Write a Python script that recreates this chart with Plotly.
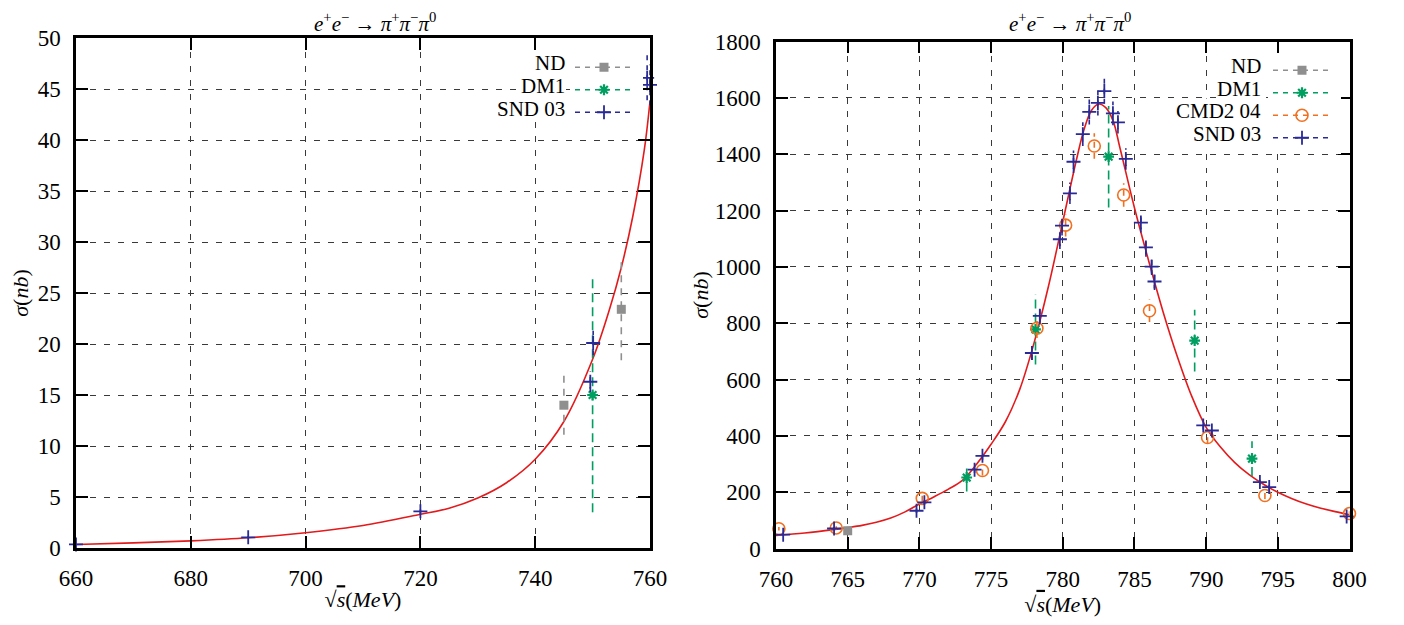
import plotly.graph_objects as go

W, H = 1404, 625
OFF = 8  # browser body margin
FONT = "Liberation Serif, DejaVu Serif, serif"

# ---------------- data: left panel (660-760 MeV) ----------------
ND_L_X = [745.0, 755.0]
ND_L_Y = [14.0, 23.4]
ND_L_E = [2.9, 5.0]

DM1_L_X = [750.0]
DM1_L_Y = [15.0]
DM1_L_E = [11.5]

SND_L_X = [660.0, 690.0, 720.0, 749.6, 750.1, 759.5, 760.0]
SND_L_Y = [0.35, 1.05, 3.6, 16.3, 20.1, 46.1, 45.4]
SND_L_E = [0.05, 0.1, 0.3, 1.0, 1.2, 2.2, 2.0]

FIT_L_X = [660, 670, 680, 690, 700, 710, 720, 725, 730, 735, 740, 745,
           750, 753, 755, 757, 759, 760]
FIT_L_Y = [0.35, 0.5, 0.7, 1.0, 1.5, 2.2, 3.3, 3.9, 4.9, 6.4, 8.7, 12.4,
           18.5, 23.5, 27.5, 32.5, 39.0, 43.8]

# ---------------- data: right panel (760-800 MeV) ----------------
ND_R_X = [765.0]
ND_R_Y = [63.0]
ND_R_E = [8.0]

DM1_R_X = [773.3, 778.1, 783.2, 789.2, 793.2]
DM1_R_Y = [252, 778, 1391, 738, 319]
DM1_R_E = [50, 125, 180, 110, 62]

CMD2_R_X = [760.2, 764.2, 770.2, 774.4, 778.2, 780.2, 782.2, 784.25, 786.05,
            790.1, 794.1, 800.0]
CMD2_R_Y = [70, 73, 178, 277, 782, 1148, 1429, 1255, 844, 394, 188, 124]
CMD2_R_E = [6, 6, 12, 18, 35, 40, 45, 42, 40, 20, 12, 8]

SND_R_X = [760.5, 764.05, 769.8, 770.35, 773.85, 774.4, 777.85, 778.4, 779.8,
           779.95, 780.5, 780.75, 781.4, 781.85, 782.45, 782.9, 783.5, 783.85,
           784.4, 785.45, 785.8, 786.2, 786.4, 789.8, 790.4, 793.75, 794.4, 799.8]
SND_R_Y = [49, 71, 134, 164, 280, 329, 694, 826, 1098, 1146, 1261, 1373, 1471,
           1550, 1582, 1624, 1545, 1513, 1383, 1157, 1069, 1001, 948, 437, 419,
           236, 218, 114]
SND_R_E = [4, 5, 8, 8, 12, 14, 25, 30, 35, 35, 38, 40, 42, 45, 45, 45, 42, 40,
           38, 35, 33, 30, 30, 15, 15, 10, 10, 6]

FIT_R_X = [760, 762, 764, 765, 766, 767, 768, 769, 770, 771, 772, 773, 774,
           775, 776, 777, 778, 779, 780, 781, 781.5, 782, 782.5, 783, 783.5,
           784, 785, 786, 787, 788, 789, 790, 791, 792, 793, 794, 795, 796,
           797, 798, 799, 800]
FIT_R_Y = [46, 55, 67, 74, 82, 93, 108, 130, 158, 183, 210, 242, 300,
           370, 450, 565, 730, 930, 1160, 1390, 1490, 1555, 1578, 1565, 1520,
           1420, 1210, 1020, 840, 680, 540, 430, 360, 305, 262, 228, 200, 177,
           158, 143, 131, 120]

X_L_TICKS = [660, 680, 700, 720, 740, 760]
Y_L_TICKS = [0, 5, 10, 15, 20, 25, 30, 35, 40, 45, 50]
X_R_TICKS = [760, 765, 770, 775, 780, 785, 790, 795, 800]
Y_R_TICKS = [0, 200, 400, 600, 800, 1000, 1200, 1400, 1600, 1800]

LEGEND_L = ["ND", "DM1", "SND 03"]
LEGEND_R = ["ND", "DM1", "CMD2 04", "SND 03"]

# ---------------- styles ----------------
C_ND = "#8f8f8f"
C_DM1 = "#009e60"
C_CMD2 = "#f07020"
C_SND = "#2a2a96"
C_FIT = "#e31a1c"

STYLE = {
    "ND": dict(color=C_ND, symbol="square", size=9, lw=0, dash="7px,6px"),
    "DM1": dict(color=C_DM1, symbol="asterisk-open", size=9, lw=2.2, dash="9px,5px"),
    "CMD2 04": dict(color=C_CMD2, symbol="circle-open", size=12, lw=1.6, dash="6px,5px"),
    "SND 03": dict(color=C_SND, symbol="cross-thin-open", size=10, lw=1.8, dash="5px,5px"),
}

fig = go.Figure()


def err_segments(xs, ys, es):
    ex, ey = [], []
    for x, y, e in zip(xs, ys, es):
        ex += [x, x, None]
        ey += [y - e, y + e, None]
    return ex, ey


def marker_of(st):
    mk = dict(color=st["color"], symbol=st["symbol"], size=st["size"])
    if st["lw"]:
        mk["line"] = dict(color=st["color"], width=st["lw"])
    return mk


def add_series(key, xs, ys, es, xa, ya):
    st = STYLE[key]
    ex, ey = err_segments(xs, ys, es)
    fig.add_trace(go.Scatter(
        x=ex, y=ey, mode="lines", xaxis=xa, yaxis=ya, showlegend=False,
        line=dict(color=st["color"], width=1.6, dash=st["dash"]),
        hoverinfo="skip", cliponaxis=False))
    fig.add_trace(go.Scatter(
        x=xs, y=ys, mode="markers", xaxis=xa, yaxis=ya, showlegend=False,
        marker=marker_of(st), name=key, cliponaxis=False))


def add_legend_entry(key, xa, ya, legend):
    st = STYLE[key]
    fig.add_trace(go.Scatter(
        x=[None], y=[None], mode="lines+markers", name="", xaxis=xa, yaxis=ya,
        legend=legend, line=dict(color=st["color"], width=1.6, dash="5px,5px"),
        marker=marker_of(st)))


# left panel
fig.add_trace(go.Scatter(x=FIT_L_X, y=FIT_L_Y, mode="lines", line_shape="spline",
                         line=dict(color=C_FIT, width=1.6), xaxis="x", yaxis="y",
                         showlegend=False, name="fit"))
add_series("ND", ND_L_X, ND_L_Y, ND_L_E, "x", "y")
add_series("DM1", DM1_L_X, DM1_L_Y, DM1_L_E, "x", "y")
add_series("SND 03", SND_L_X, SND_L_Y, SND_L_E, "x", "y")
for k in LEGEND_L:
    add_legend_entry(k, "x", "y", "legend")

# right panel
fig.add_trace(go.Scatter(x=FIT_R_X, y=FIT_R_Y, mode="lines", line_shape="spline",
                         line=dict(color=C_FIT, width=1.6), xaxis="x2", yaxis="y2",
                         showlegend=False, name="fit"))
add_series("ND", ND_R_X, ND_R_Y, ND_R_E, "x2", "y2")
add_series("DM1", DM1_R_X, DM1_R_Y, DM1_R_E, "x2", "y2")
add_series("CMD2 04", CMD2_R_X, CMD2_R_Y, CMD2_R_E, "x2", "y2")
add_series("SND 03", SND_R_X, SND_R_Y, SND_R_E, "x2", "y2")
for k in LEGEND_R:
    add_legend_entry(k, "x2", "y2", "legend2")


def px_x(p):
    return (p - OFF) / W


def px_y(p):
    return 1 - (p - OFF) / H


axis_common = dict(
    showline=True, linecolor="black", linewidth=2.5, mirror="ticks",
    ticks="inside", ticklen=12, tickwidth=2.2, tickcolor="black",
    showgrid=True, gridcolor="#3a3a3a", gridwidth=1, griddash="6px,8px",
    zeroline=False, tickfont=dict(family=FONT, size=23, color="black"),
    ticklabelstandoff=8, automargin=False,
)

XTITLE = "√<span style='text-decoration:overline'><i>s</i></span>(<i>MeV</i>)"
YTITLE = "<i>σ</i>(<i>nb</i>)"
TITLE = ("<i>e</i><sup>+</sup><i>e</i><sup>−</sup> → "
         "<i>π</i><sup>+</sup><i>π</i><sup>−</sup><i>π</i><sup>0</sup>")

annotations = [
    dict(text=TITLE, x=px_x(375), y=1.0, xref="paper", yref="paper",
         showarrow=False, xanchor="center", yanchor="top", borderpad=0,
         font=dict(family=FONT, size=21)),
    dict(text=TITLE, x=px_x(1070), y=1.0, xref="paper", yref="paper",
         showarrow=False, xanchor="center", yanchor="top", borderpad=0,
         font=dict(family=FONT, size=21)),
]
# legend labels (gnuplot style: text to the left of the sample)
for i, k in enumerate(LEGEND_L):
    annotations.append(dict(text=k, x=px_x(566), y=px_y(63 + 23 * i),
                            xref="paper", yref="paper", showarrow=False,
                            xanchor="right", yanchor="middle", bgcolor="white",
                            borderpad=0, font=dict(family=FONT, size=21)))
for i, k in enumerate(LEGEND_R):
    annotations.append(dict(text=k, x=px_x(1262), y=px_y(66 + 22.7 * i),
                            xref="paper", yref="paper", showarrow=False,
                            xanchor="right", yanchor="middle", bgcolor="white",
                            borderpad=0, font=dict(family=FONT, size=21)))

fig.update_layout(
    width=W, height=H,
    margin=dict(l=0, r=0, t=0, b=0),
    paper_bgcolor="white", plot_bgcolor="white",
    font=dict(family=FONT, size=22, color="black"),
    xaxis=dict(domain=[px_x(76), px_x(650)], range=[660, 760], tickvals=X_L_TICKS,
               anchor="y",
               title=dict(text=XTITLE, standoff=2, font=dict(family=FONT, size=22)),
               **axis_common),
    yaxis=dict(domain=[px_y(548), px_y(38)], range=[0, 50], tickvals=Y_L_TICKS,
               anchor="x",
               title=dict(text=YTITLE, standoff=16, font=dict(family=FONT, size=22)),
               **axis_common),
    xaxis2=dict(domain=[px_x(776), px_x(1349.5)], range=[760, 800],
                tickvals=X_R_TICKS, anchor="y2",
                title=dict(text=XTITLE, standoff=2, font=dict(family=FONT, size=22)),
                **axis_common),
    yaxis2=dict(domain=[px_y(548.5), px_y(41.5)], range=[0, 1800],
                tickvals=Y_R_TICKS, anchor="x2",
                title=dict(text=YTITLE, standoff=0, font=dict(family=FONT, size=22)),
                **axis_common),
    legend=dict(x=px_x(570), y=px_y(51), xanchor="left", yanchor="top",
                bgcolor="white", borderwidth=0, traceorder="normal",
                font=dict(family=FONT, size=15), itemwidth=58,
                tracegroupgap=0),
    legend2=dict(x=px_x(1268), y=px_y(54), xanchor="left", yanchor="top",
                 bgcolor="white", borderwidth=0, traceorder="normal",
                 font=dict(family=FONT, size=15), itemwidth=58,
                 tracegroupgap=0),
    annotations=annotations,
)

fig.write_html("out.html")
